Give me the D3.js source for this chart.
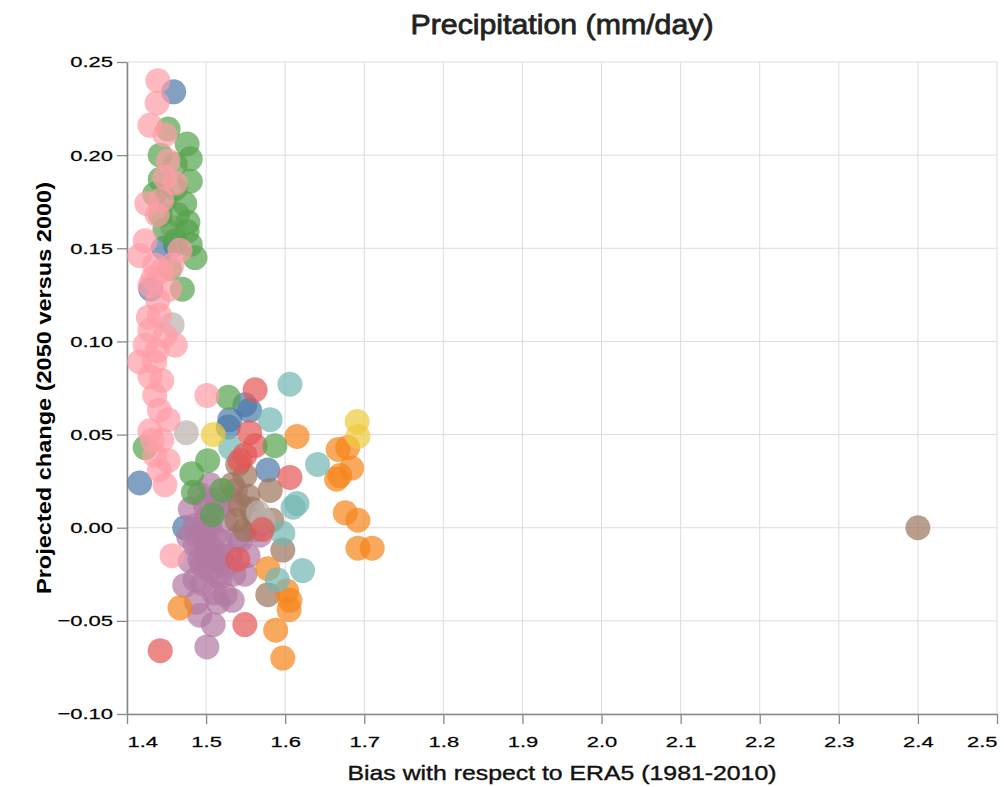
<!DOCTYPE html>
<html>
<head>
<meta charset="utf-8">
<script src="https://cdn.jsdelivr.net/npm/d3@7"></script>
<style>
body { margin: 0; background: #fff; }
text { font-family: "Liberation Sans", Arial, sans-serif; fill: #000; }
</style>
</head>
<body>
<div id="chart"></div>
<script>
// values: [bias, projected change]
const modelNames = ["Model 1", "Model 2", "Model 3", "Model 4", "Model 5",
                    "Model 6", "Model 7", "Model 8", "Model 9", "Model 10"];

const model1 = [[1.459, 0.234], [1.416, 0.024], [1.473, 0.000], [1.530, 0.058],
                [1.549, 0.066], [1.555, 0.063], [1.578, 0.031], [1.461, 0.152], [1.446, 0.150],
                [1.430, 0.128], [1.528, 0.054]];
const model2 = [[1.615, 0.049], [1.667, 0.042], [1.679, 0.043], [1.669, 0.028], [1.684, 0.032],
                [1.665, 0.026], [1.676, 0.008], [1.692, 0.004], [1.692, -0.011], [1.710, -0.011],
                [1.578, -0.022], [1.602, -0.034], [1.606, -0.039], [1.605, -0.044], [1.588, -0.055],
                [1.597, -0.070], [1.467, -0.043]];
const model3 = [[1.442, -0.066], [1.562, 0.074], [1.555, 0.051], [1.562, 0.044], [1.549, 0.039],
                [1.543, 0.036], [1.540, -0.017], [1.549, -0.052], [1.606, 0.027], [1.571, -0.001]];
const model4 = [[1.606, 0.077], [1.581, 0.058], [1.641, 0.034], [1.610, 0.011], [1.615, 0.013],
                [1.597, -0.003], [1.622, -0.023], [1.590, -0.028], [1.531, 0.043]];
const model5 = [[1.452, 0.214], [1.476, 0.206], [1.442, 0.200], [1.480, 0.198], [1.461, 0.195],
                [1.442, 0.187], [1.480, 0.186], [1.461, 0.182], [1.448, 0.176], [1.473, 0.174],
                [1.442, 0.168], [1.464, 0.168], [1.477, 0.164], [1.448, 0.160], [1.476, 0.159],
                [1.461, 0.154], [1.480, 0.152], [1.486, 0.145], [1.454, 0.139], [1.470, 0.128],
                [1.435, 0.179],
                [1.423, 0.043], [1.528, 0.070], [1.502, 0.036], [1.482, 0.029], [1.484, 0.019],
                [1.520, 0.020], [1.508, 0.007], [1.587, 0.044]];
const model6 = [[1.509, 0.050], [1.691, 0.057], [1.692, 0.049]];
const model7 = [[1.501, -0.064], [1.509, -0.052], [1.492, -0.047], [1.524, -0.036], [1.533, -0.039],
                [1.473, -0.031], [1.486, -0.028], [1.505, -0.023], [1.518, -0.027], [1.549, -0.025],
                [1.492, -0.017], [1.511, -0.017], [1.530, -0.015], [1.486, -0.009], [1.499, -0.007],
                [1.518, -0.007], [1.543, -0.007], [1.486, 0.001], [1.505, 0.001], [1.524, 0.004],
                [1.499, 0.012], [1.515, 0.011], [1.530, 0.015], [1.562, -0.001], [1.492, 0.018],
                [1.505, 0.023], [1.480, 0.010], [1.553, -0.015], [1.568, -0.004], [1.537, 0.020],
                [1.490, -0.005], [1.500, -0.015], [1.510, -0.005], [1.520, -0.015], [1.495, -0.030],
                [1.510, -0.035], [1.525, -0.020], [1.480, -0.018], [1.500, 0.005], [1.515, -0.040],
                [1.535, -0.025], [1.540, -0.005], [1.488, -0.040], [1.478, -0.005], [1.512, 0.015],
                [1.495, -0.020], [1.505, -0.010], [1.515, -0.025], [1.498, 0.000]];
const model8 = [[1.439, 0.240], [1.438, 0.228], [1.429, 0.216], [1.448, 0.211], [1.452, 0.197],
                [1.448, 0.188], [1.461, 0.185], [1.425, 0.174], [1.444, 0.176], [1.438, 0.168],
                [1.467, 0.149], [1.423, 0.154], [1.416, 0.146], [1.435, 0.141], [1.444, 0.138],
                [1.429, 0.130], [1.439, 0.122], [1.441, 0.114], [1.429, 0.106], [1.448, 0.103],
                [1.461, 0.098], [1.416, 0.089], [1.435, 0.089], [1.429, 0.081], [1.444, 0.079],
                [1.435, 0.071], [1.441, 0.063], [1.452, 0.058], [1.429, 0.052], [1.444, 0.047],
                [1.435, 0.039], [1.452, 0.036], [1.441, 0.031], [1.448, 0.023], [1.501, 0.071],
                [1.457, -0.015], [1.423, 0.098], [1.427, 0.113], [1.454, 0.128], [1.457, 0.141],
                [1.432, 0.047], [1.433, 0.134], [1.438, 0.095]];
const model9 = [[2.400, 0.000], [1.540, 0.034], [1.549, 0.028], [1.533, 0.023], [1.553, 0.017],
                [1.543, 0.012], [1.558, 0.010], [1.539, 0.004], [1.549, -0.001], [1.581, 0.020],
                [1.597, -0.012], [1.578, -0.036], [1.583, 0.004], [1.562, 0.004]];
const model10 = [[1.458, 0.161], [1.457, 0.109], [1.475, 0.051], [1.572, 0.004], [1.566, 0.008]];

const modelValues = [model1, model2, model3, model4, model5, model6, model7, model8, model9, model10];
// order in which the groups are painted (later on top)
const drawOrder = ["Model 1", "Model 7", "Model 9", "Model 10", "Model 2", "Model 4", "Model 3",
                   "Model 6", "Model 5", "Model 8"];

const xTicks = [1.4, 1.5, 1.6, 1.7, 1.8, 1.9, 2.0, 2.1, 2.2, 2.3, 2.4, 2.5];
const yTicks = [-0.10, -0.05, 0.00, 0.05, 0.10, 0.15, 0.20, 0.25];

const chartTitle = "Precipitation (mm/day)";
const xTitle = "Bias with respect to ERA5 (1981-2010)";
const yTitle = "Projected change (2050 versus 2000)";

const width = 1004, height = 787;
const margin = {top: 62, right: 7, bottom: 73, left: 127};
const innerW = width - margin.left - margin.right;
const innerH = height - margin.top - margin.bottom;
const stretch = 1.42; // tick labels are wide in the picture

const points = [];
drawOrder.forEach(name => {
    const i = modelNames.indexOf(name);
    modelValues[i].forEach(v => points.push({model: name, bias: v[0], change: v[1]}));
});

const svg = d3.select("#chart")
    .append("svg")
    .attr("width", width)
    .attr("height", height);

const g = svg.append("g")
    .attr("transform", "translate(" + margin.left + "," + margin.top + ")");

const x = d3.scaleLinear().domain([1.4, 2.5]).range([0, innerW]);
const y = d3.scaleLinear().domain([-0.10, 0.25]).range([innerH, 0]);
const color = d3.scaleOrdinal()
    .domain(modelNames)
    .range(["#4c78a8", "#f58518", "#e45756", "#72b7b2", "#54a24b",
            "#eeca3b", "#b279a2", "#ff9da6", "#9d755d", "#bab0ac"]);

// grid
g.append("g").selectAll("line")
    .data(xTicks)
    .join("line")
        .attr("x1", d => x(d)).attr("x2", d => x(d))
        .attr("y1", 0).attr("y2", innerH)
        .attr("stroke", "#ddd");
g.append("g").selectAll("line")
    .data(yTicks)
    .join("line")
        .attr("x1", 0).attr("x2", innerW)
        .attr("y1", d => y(d)).attr("y2", d => y(d))
        .attr("stroke", "#ddd");

// axes
const xAxis = g.append("g")
    .attr("transform", "translate(0," + innerH + ")")
    .call(d3.axisBottom(x).tickValues(xTicks).tickFormat(d3.format(".1f")).tickSize(10).tickSizeOuter(0));
xAxis.selectAll(".tick text")
    .attr("y", 22)
    .attr("transform", "scale(" + stretch + ",1)")
    .style("font-size", "15.5px")
    .attr("text-anchor", (d, i) => i === 0 ? "start" : (i === xTicks.length - 1 ? "end" : "middle"));

const yAxis = g.append("g")
    .call(d3.axisLeft(y).tickValues(yTicks).tickFormat(d3.format(".2f")).tickSize(10).tickSizeOuter(0));
yAxis.selectAll(".tick text")
    .attr("x", -14 / stretch)
    .attr("transform", "scale(" + stretch + ",1)")
    .style("font-size", "15.5px");

[xAxis, yAxis].forEach(a => {
    a.select(".domain").attr("stroke", "#888").attr("stroke-width", 1.6);
    a.selectAll(".tick line").attr("stroke", "#888").attr("stroke-width", 1.3);
    a.selectAll(".tick text")
        .attr("fill", "#111")
        .attr("stroke", "#111").attr("stroke-width", 0.25)
        .style("font-family", "'Liberation Sans', Arial, sans-serif");
});

// points
g.append("g").selectAll("circle")
    .data(points)
    .join("circle")
        .attr("cx", d => x(d.bias))
        .attr("cy", d => y(d.change))
        .attr("r", 12.5)
        .attr("fill", d => color(d.model))
        .attr("fill-opacity", 0.7);

// titles
svg.append("text")
    .attr("x", margin.left + innerW / 2)
    .attr("y", 34)
    .attr("text-anchor", "middle")
    .attr("textLength", 303)
    .attr("lengthAdjust", "spacingAndGlyphs")
    .style("font-size", "28px")
    .style("fill", "#222")
    .style("stroke", "#222")
    .style("stroke-width", "0.8px")
    .text(chartTitle);

svg.append("text")
    .attr("x", margin.left + innerW / 2)
    .attr("y", 780)
    .attr("text-anchor", "middle")
    .attr("textLength", 429)
    .attr("lengthAdjust", "spacingAndGlyphs")
    .style("font-size", "21px")
    .style("fill", "#111")
    .style("stroke", "#111")
    .style("stroke-width", "0.4px")
    .text(xTitle);

svg.append("text")
    .attr("transform", "translate(51," + (margin.top + innerH / 2) + ") rotate(-90)")
    .attr("text-anchor", "middle")
    .attr("textLength", 412)
    .attr("lengthAdjust", "spacingAndGlyphs")
    .style("font-size", "21px")
    .style("font-weight", "bold")
    .text(yTitle);
</script>
</body>
</html>
